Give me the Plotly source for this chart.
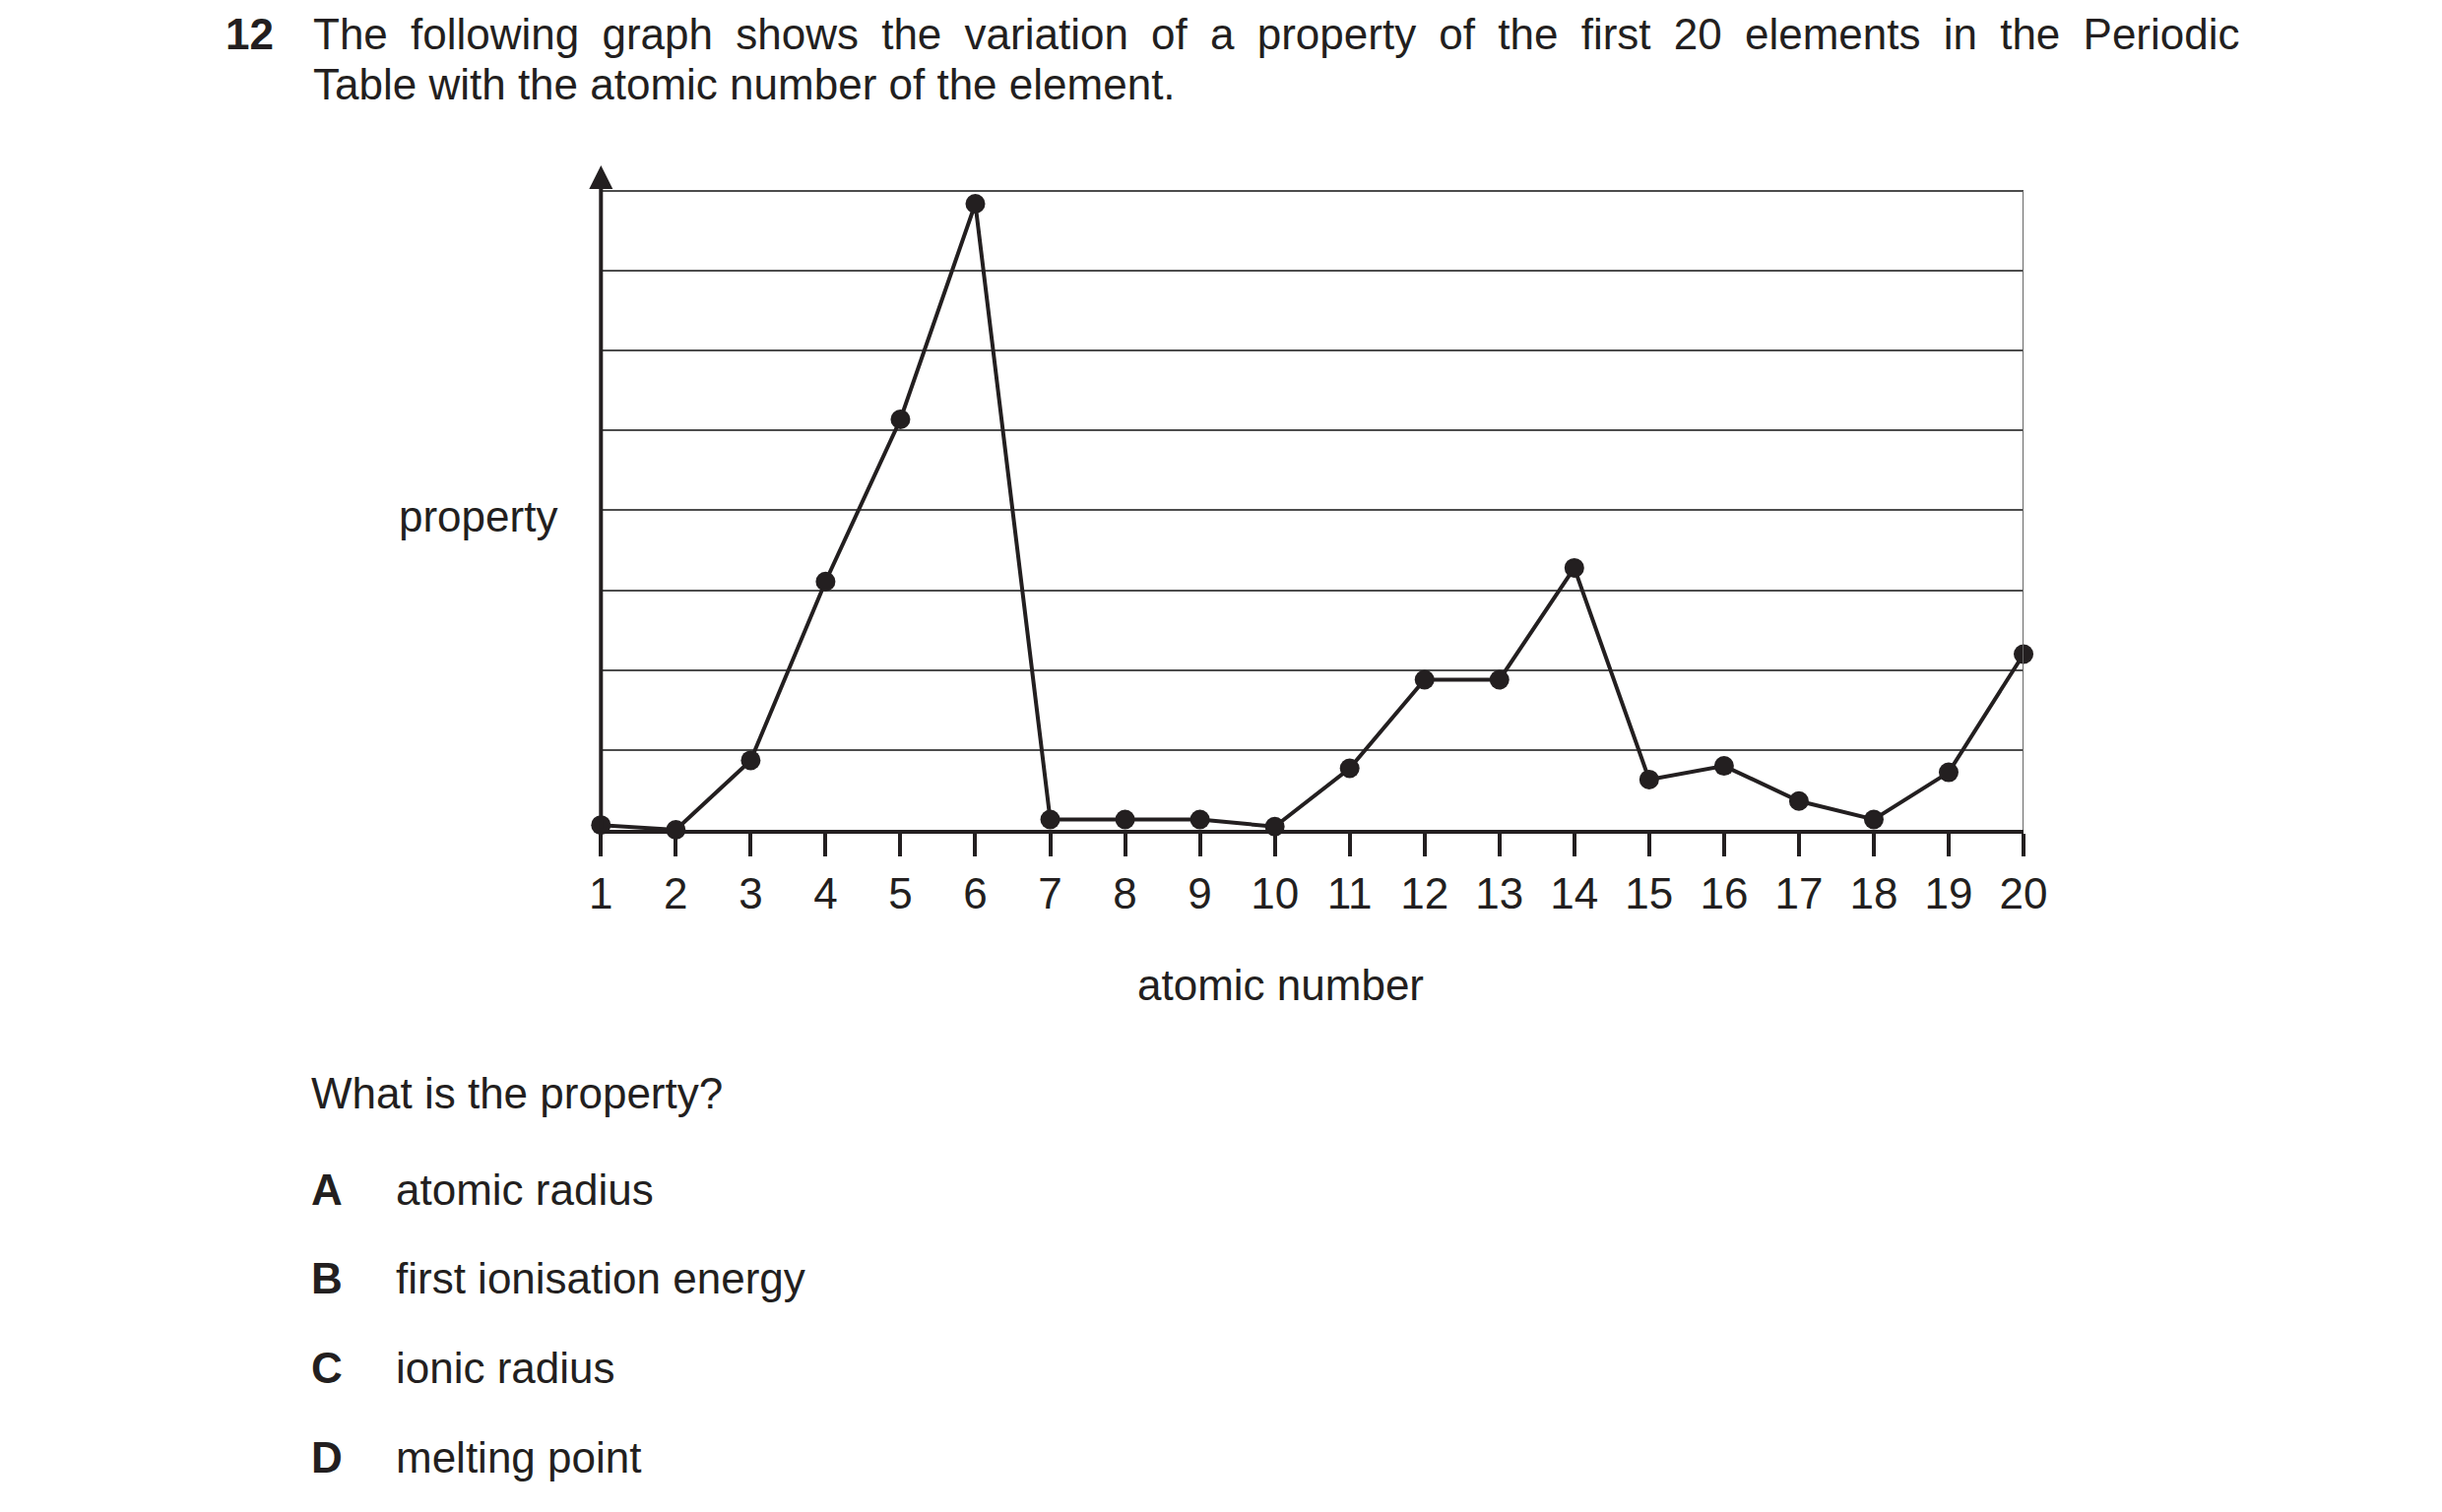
import plotly.graph_objects as go

W, H = 2480, 1536
INK = '#231f20'
FONT = 'Liberation Sans, Arial, sans-serif'
FS = 44

atomic_number = list(range(1, 21))
tick_labels = [str(n) for n in atomic_number]
property_value = [0.06, 0.0, 0.87, 3.11, 5.14, 7.84, 0.13, 0.13, 0.13, 0.04,
                  0.77, 1.88, 1.88, 3.28, 0.63, 0.80, 0.36, 0.13, 0.72, 2.20]

question_no = '12'
question_lines = [
    'The following graph shows the variation of a property of the first 20 elements in the Periodic',
    'Table with the atomic number of the element.',
]
prompt = 'What is the property?'
option_letters = ['A', 'B', 'C', 'D']
option_texts = ['atomic radius', 'first ionisation energy', 'ionic radius', 'melting point']

# pixel frame of the grid: baseline (0) and top grid line (8)
Y0_PX, Y8_PX = 835, 186
Y_TOP = 8.1  # a little headroom so the top grid line is kept
unit_px = (Y0_PX - Y8_PX) / 8


def px(x):
    return x / W


def py(y):
    return 1 - y / H


fig = go.Figure()


def add_text(x, y, s, anchor='left'):
    fig.add_annotation(x=px(x), y=py(y), xref='paper', yref='paper', text=s,
                       showarrow=False, xanchor=anchor, yanchor='middle',
                       font={'family': FONT, 'size': FS, 'color': INK})


fig.add_trace(go.Scatter(
    x=atomic_number,
    y=property_value,
    mode='lines+markers',
    line={'color': INK, 'width': 4},
    marker={'color': INK, 'size': 20},
    cliponaxis=False,
    showlegend=False,
))

# y axis drawn as an arrow, plus the right border of the grid
fig.add_annotation(x=1, y=8.32, ax=1, ay=0, xref='x', yref='y', axref='x', ayref='y',
                   text='', showarrow=True, arrowhead=2, arrowsize=1.2,
                   arrowwidth=4, arrowcolor=INK)
fig.add_shape(type='line', x0=20, x1=20, y0=0, y1=8, xref='x', yref='y',
              line={'color': '#666666', 'width': 2})

# question text (first line spread out like the justified original)
add_text(210, 26, '<b>' + question_no + '</b>')
add_text(300, 26, question_lines[0].replace(' ', ' \u2005'))
add_text(300, 77, question_lines[1])
add_text(556, 516, 'property', anchor='right')
add_text(1299, 992, 'atomic number', anchor='center')
add_text(298, 1102, prompt)
for i, (letter, label) in enumerate(zip(option_letters, option_texts)):
    add_text(298, 1200 + i * 90.7, '<b>' + letter + '</b>')
    add_text(386, 1200 + i * 90.7, label)

fig.update_layout(
    width=W, height=H,
    margin={'l': 0, 'r': 0, 't': 0, 'b': 0},
    paper_bgcolor='white', plot_bgcolor='white',
    xaxis={
        'domain': [px(599), px(2065)],
        'range': [1, 20],
        'tickvals': atomic_number,
        'ticktext': tick_labels,
        'ticks': 'outside', 'ticklen': 23, 'tickwidth': 3.5, 'tickcolor': INK,
        'showline': True, 'linewidth': 4, 'linecolor': INK,
        'showgrid': False, 'zeroline': False,
        'tickfont': {'family': FONT, 'size': FS, 'color': INK},
    },
    yaxis={
        'domain': [py(Y0_PX), py(Y0_PX - Y_TOP * unit_px)],
        'range': [0, Y_TOP],
        'dtick': 1,
        'showgrid': True, 'gridcolor': '#4d4d4d', 'gridwidth': 1.7,
        'showticklabels': False, 'zeroline': False, 'showline': False,
    },
)

fig.write_html('out.html')
